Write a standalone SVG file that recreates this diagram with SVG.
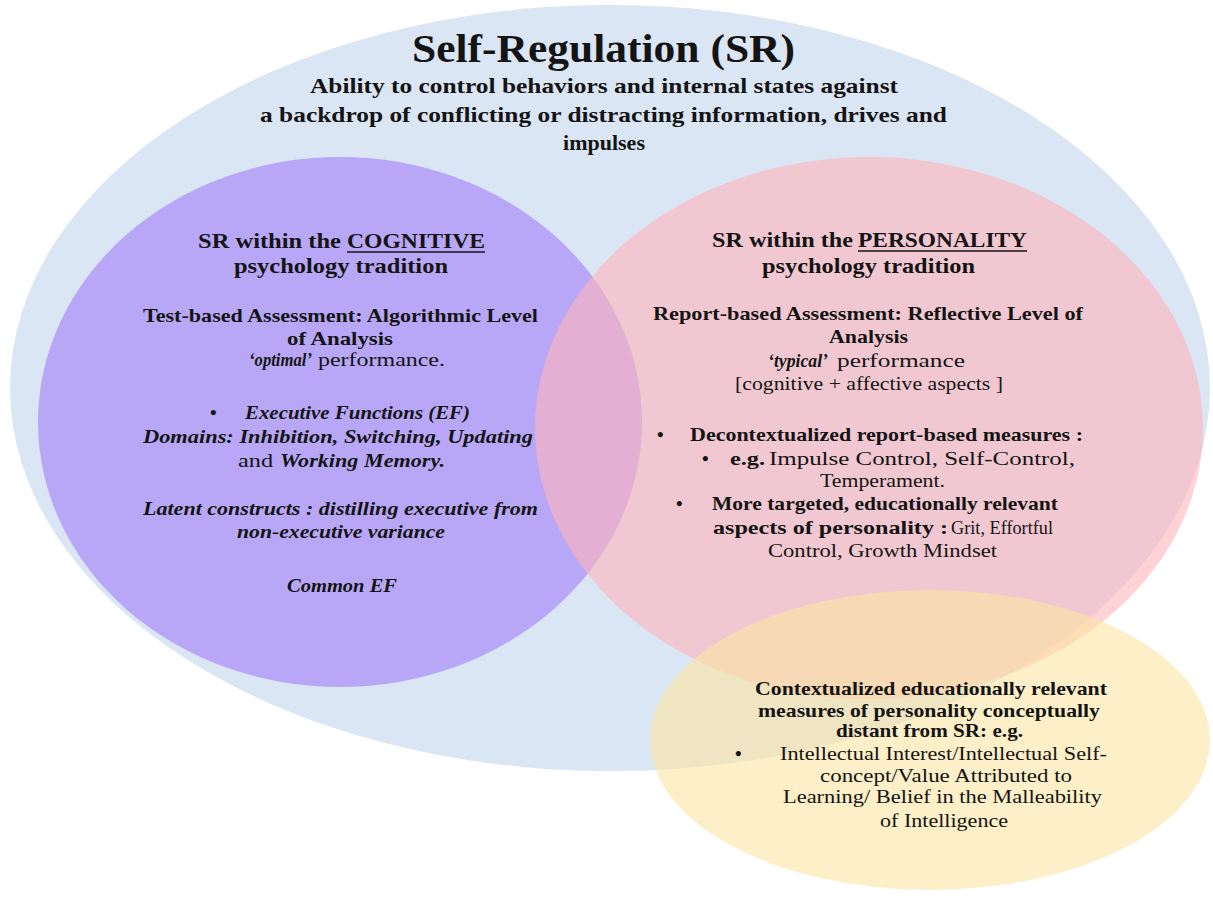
<svg xmlns="http://www.w3.org/2000/svg" width="1213" height="914" viewBox="0 0 1213 914">
<style>
text{font-family:"Liberation Serif","Times New Roman",serif;fill:#141414}
.b{font-weight:bold}
.bi{font-weight:bold;font-style:italic}
.r{font-weight:normal}
.t{font-size:39px;font-weight:bold}
.s{font-size:22px;font-weight:bold}
.h{font-size:20px}
.m{font-size:19.5px}
.y{font-size:19px}
.dot{font-size:19px;font-weight:bold}
.ul{stroke:#141414;stroke-width:1.3}
</style>
<rect width="1213" height="914" fill="#ffffff"/>
<g id="self-regulation">
<ellipse cx="610" cy="388" rx="600" ry="383" fill="#dbe6f4"/>
<text class="t" x="412" y="62" textLength="383" lengthAdjust="spacingAndGlyphs">Self-Regulation (SR)</text>
<text class="s" x="310" y="93" textLength="588" lengthAdjust="spacingAndGlyphs">Ability to control behaviors and internal states against</text>
<text class="s" x="260" y="122" textLength="687" lengthAdjust="spacingAndGlyphs">a backdrop of conflicting or distracting information, drives and</text>
<text class="s" x="604" y="150" text-anchor="middle">impulses</text>
</g>
<g id="cognitive">
<ellipse cx="340" cy="422" rx="302" ry="265" fill="#b8a7f7"/>
<text class="h b" x="198" y="248" textLength="143" lengthAdjust="spacingAndGlyphs">SR within the</text>
<text class="h b" x="347" y="248" textLength="138" lengthAdjust="spacingAndGlyphs">COGNITIVE</text>
<line class="ul" x1="347" y1="252" x2="485" y2="252"/>
<text class="h b" x="234" y="273" textLength="214" lengthAdjust="spacingAndGlyphs">psychology tradition</text>
<text class="m b" x="143" y="322" textLength="395" lengthAdjust="spacingAndGlyphs">Test-based Assessment: Algorithmic Level</text>
<text class="m b" x="287" y="345" textLength="106" lengthAdjust="spacingAndGlyphs">of Analysis</text>
<text class="m bi" x="249" y="366" textLength="63" lengthAdjust="spacingAndGlyphs">‘optimal’</text>
<text class="m r" x="318" y="366" textLength="127" lengthAdjust="spacingAndGlyphs">performance.</text>
<text class="dot" x="210" y="419">•</text>
<text class="m bi" x="245" y="419" textLength="225" lengthAdjust="spacingAndGlyphs">Executive Functions (EF)</text>
<text class="m bi" x="143" y="443" textLength="390" lengthAdjust="spacingAndGlyphs">Domains: Inhibition, Switching, Updating</text>
<text class="m r" x="238" y="467" textLength="35" lengthAdjust="spacingAndGlyphs">and</text>
<text class="m bi" x="280" y="467" textLength="165" lengthAdjust="spacingAndGlyphs">Working Memory.</text>
<text class="m bi" x="143" y="515" textLength="395" lengthAdjust="spacingAndGlyphs">Latent constructs : distilling executive from</text>
<text class="m bi" x="237" y="538" textLength="208" lengthAdjust="spacingAndGlyphs">non-executive variance</text>
<text class="m bi" x="287" y="592" textLength="110" lengthAdjust="spacingAndGlyphs">Common EF</text>
</g>
<g id="personality">
<ellipse cx="869" cy="428" rx="334" ry="271" fill="#ffb4b9" fill-opacity="0.6"/>
<text class="h b" x="712" y="247" textLength="141" lengthAdjust="spacingAndGlyphs">SR within the</text>
<text class="h b" x="858" y="247" textLength="169" lengthAdjust="spacingAndGlyphs">PERSONALITY</text>
<line class="ul" x1="858" y1="251" x2="1027" y2="251"/>
<text class="h b" x="762" y="273" textLength="213" lengthAdjust="spacingAndGlyphs">psychology tradition</text>
<text class="m b" x="653" y="320" textLength="430" lengthAdjust="spacingAndGlyphs">Report-based Assessment:  Reflective Level of</text>
<text class="m b" x="829" y="343" textLength="79" lengthAdjust="spacingAndGlyphs">Analysis</text>
<text class="m bi" x="768" y="367" textLength="60" lengthAdjust="spacingAndGlyphs">‘typical’</text>
<text class="m r" x="837" y="367" textLength="128" lengthAdjust="spacingAndGlyphs">performance</text>
<text class="m r" x="735" y="390" textLength="268" lengthAdjust="spacingAndGlyphs">[cognitive + affective aspects ]</text>
<text class="dot" x="657" y="441">•</text>
<text class="m b" x="690" y="441" textLength="393" lengthAdjust="spacingAndGlyphs">Decontextualized report-based measures :</text>
<text class="dot" x="702" y="465">•</text>
<text class="m b" x="730" y="465" textLength="35" lengthAdjust="spacingAndGlyphs">e.g.</text>
<text class="m r" x="769" y="465" textLength="306" lengthAdjust="spacingAndGlyphs">Impulse Control, Self-Control,</text>
<text class="m r" x="820" y="487" textLength="125" lengthAdjust="spacingAndGlyphs">Temperament.</text>
<text class="dot" x="676" y="510">•</text>
<text class="m b" x="712" y="510" textLength="346" lengthAdjust="spacingAndGlyphs">More targeted, educationally relevant</text>
<text class="m b" x="713" y="534" textLength="235" lengthAdjust="spacingAndGlyphs">aspects of personality :</text>
<text class="m r" x="951" y="534" textLength="102" lengthAdjust="spacingAndGlyphs">Grit, Effortful</text>
<text class="m r" x="768" y="557" textLength="229" lengthAdjust="spacingAndGlyphs">Control, Growth Mindset</text>
</g>
<g id="contextualized">
<ellipse cx="930" cy="740" rx="280" ry="150" fill="#fce4a2" fill-opacity="0.6"/>
<text class="y b" x="755" y="695" textLength="352" lengthAdjust="spacingAndGlyphs">Contextualized educationally relevant</text>
<text class="y b" x="758" y="717" textLength="342" lengthAdjust="spacingAndGlyphs">measures of personality conceptually</text>
<text class="y b" x="836" y="737" textLength="187" lengthAdjust="spacingAndGlyphs">distant from SR: e.g.</text>
<text class="dot" x="735" y="760">•</text>
<text class="y r" x="780" y="760" textLength="327" lengthAdjust="spacingAndGlyphs">Intellectual Interest/Intellectual Self-</text>
<text class="y r" x="820" y="782" textLength="252" lengthAdjust="spacingAndGlyphs">concept/Value Attributed to</text>
<text class="y r" x="783" y="803" textLength="319" lengthAdjust="spacingAndGlyphs">Learning/ Belief in the Malleability</text>
<text class="y r" x="880" y="827" textLength="128" lengthAdjust="spacingAndGlyphs">of Intelligence</text>
</g>
<g id="connectors"/>
</svg>
